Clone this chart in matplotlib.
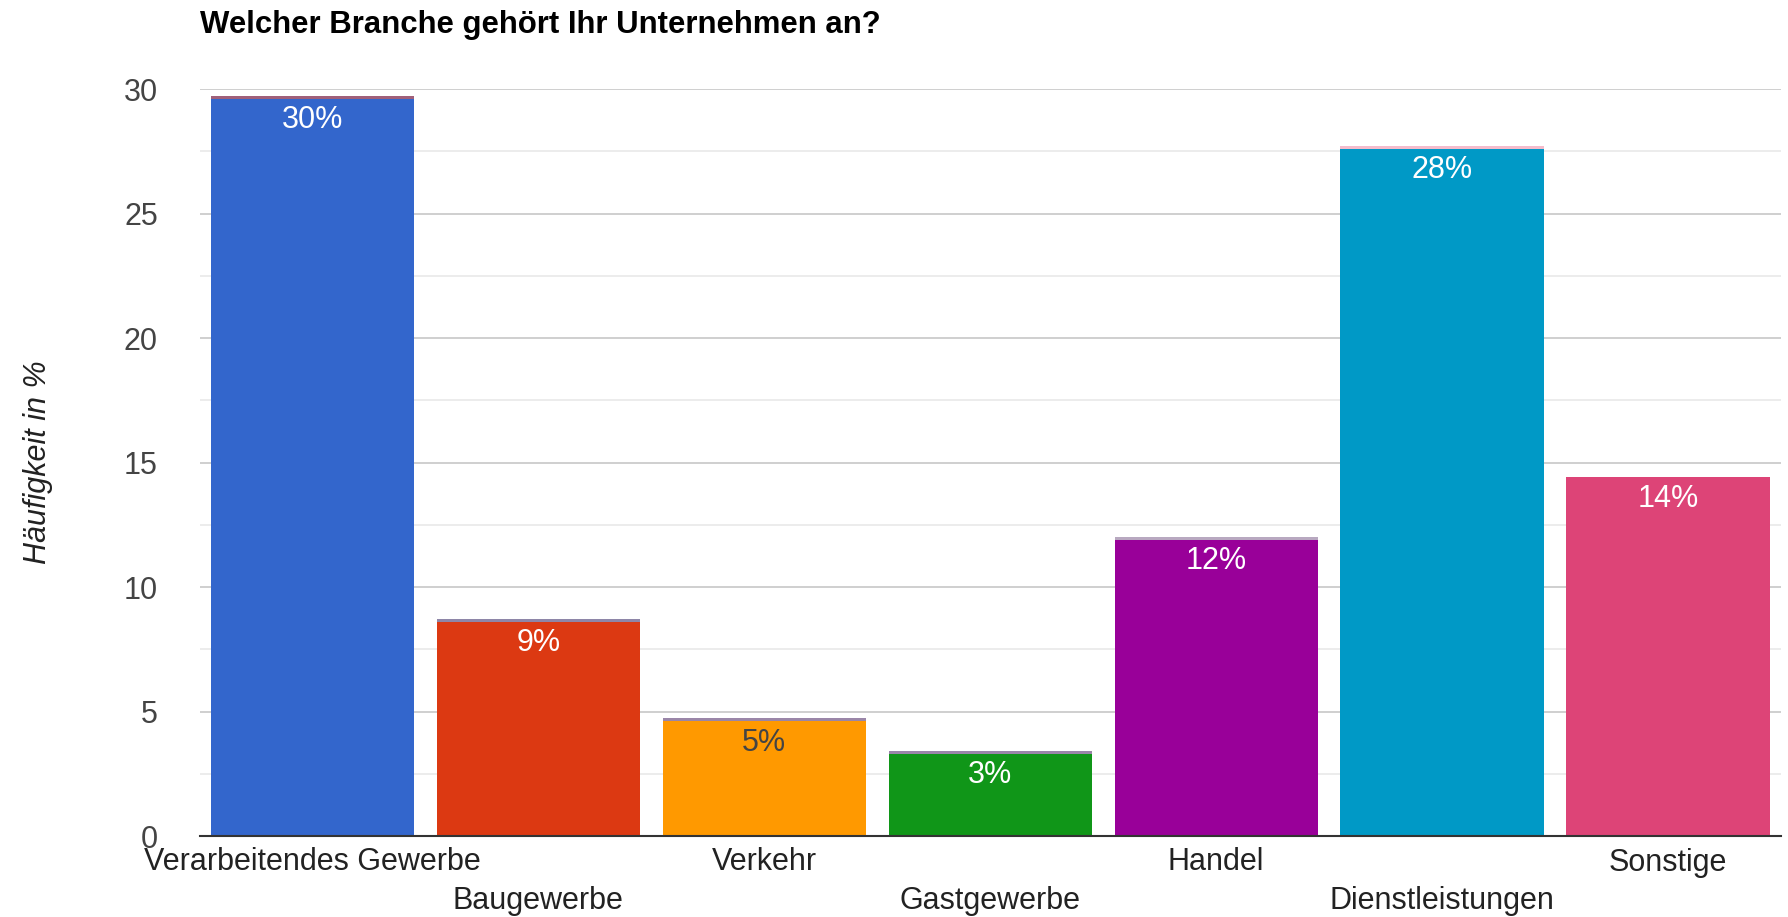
import matplotlib
matplotlib.use("Agg")
import matplotlib.pyplot as plt
import numpy as np

plt.rcParams['font.family'] = ['Liberation Sans', 'DejaVu Sans']

categories = ["Verarbeitendes Gewerbe", "Baugewerbe", "Verkehr", "Gastgewerbe",
              "Handel", "Dienstleistungen", "Sonstige"]
values = [29.6, 8.6, 4.6, 3.3, 11.9, 27.6, 14.4]
labels = ["30%", "9%", "5%", "3%", "12%", "28%", "14%"]
top_values = [0.12, 0.12, 0.12, 0.12, 0.12, 0.12, 0.0]
colors = ["#3366cc", "#dc3912", "#ff9900", "#109618", "#990099", "#0099c6", "#dd4477"]
top_colors = ["#a0607a", "#8e86a8", "#9a86a8", "#9a86a8", "#b8a8c0", "#f4bccc", "#dd4477"]
label_colors = ["white", "white", "#444444", "white", "white", "white", "white"]
yticks = [0, 5, 10, 15, 20, 25, 30]

W, H = 1788, 917
fig = plt.figure(figsize=(W / 100, H / 100), dpi=100)
ax = fig.add_axes([199.5 / W, 1 - 836 / H, (1781 - 199.5) / W, (836 - 89) / H])

x = np.arange(len(categories))
ax.bar(x, values, width=0.9, color=colors, zorder=3)
ax.bar(x, top_values, bottom=values, width=0.9, color=top_colors, zorder=3)

for xi, v, lab, lc in zip(x, values, labels, label_colors):
    ax.annotate(lab, (xi, v), xytext=(0, -15.5), textcoords='offset points',
                ha='center', va='center', color=lc, fontsize=22, zorder=4)

ax.set_xlim(-0.5, len(categories) - 0.5)
ax.set_ylim(0, 30)
ax.set_yticks(yticks)
ax.set_yticklabels([str(t) for t in yticks], fontsize=22, color="#444444")
ax.set_yticks(np.arange(2.5, 30, 5), minor=True)
ax.tick_params(axis='y', which='both', length=0, pad=30)
ax.grid(axis='y', which='major', color='#cccccc', linewidth=1.3, zorder=0)
ax.grid(axis='y', which='minor', color='#ebebeb', linewidth=1.3, zorder=0)

ax.set_xticks(x)
ax.set_xticklabels([])
ax.tick_params(axis='x', length=0)
for i, (xi, c) in enumerate(zip(x, categories)):
    off = 26.5 if i % 2 == 0 else 65
    ax.annotate(c, (xi, 0), xytext=(0, -off * 0.72), textcoords='offset points',
                ha='center', va='center', fontsize=22, color='#222222',
                annotation_clip=False)

for s in ['top', 'right', 'left']:
    ax.spines[s].set_visible(False)
ax.spines['bottom'].set_color('#333333')
ax.spines['bottom'].set_linewidth(1.5)
ax.spines['bottom'].set_zorder(5)

fig.text(38 / W, 1 - 462 / H, "Häufigkeit in %", rotation=90, ha='center', va='center',
         fontsize=22, style='italic', color='#222222')
fig.text(200 / W, 1 - 25 / H, "Welcher Branche gehört Ihr Unternehmen an?", ha='left',
         va='center', fontsize=22.4, fontweight='bold', color='#000000')

fig.savefig("out.png", dpi=100, facecolor='white')
